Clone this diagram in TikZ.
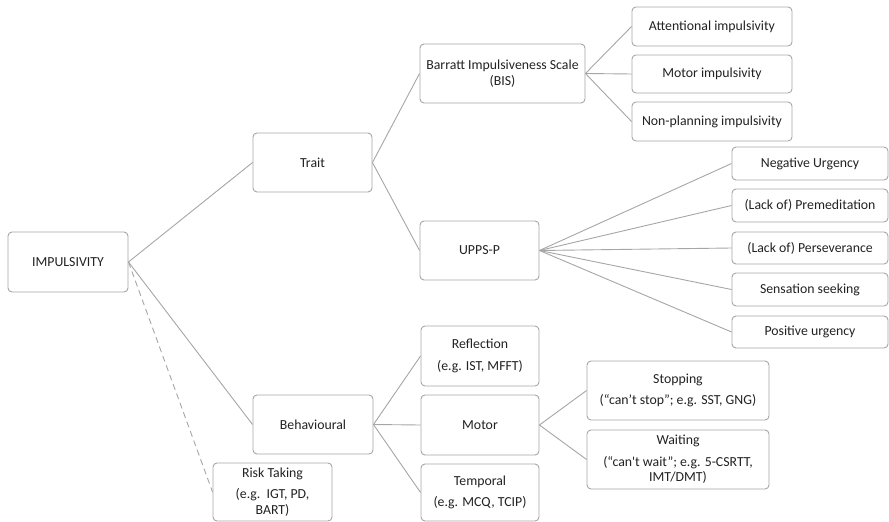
\documentclass[tikz,border=0pt]{standalone}
\usepackage{fontspec}
\setmainfont{Carlito}
\definecolor{boxline}{HTML}{A6A6A6}
\definecolor{conn}{HTML}{A6A6A6}
\definecolor{txt}{HTML}{222222}
\begin{document}
\begin{tikzpicture}[x=1pt,y=-1pt,
  bx/.style={draw=boxline, line width=0.9pt, rounded corners=4pt, fill=white,
    align=center, inner sep=0pt, text=txt,
    font=\fontsize{13.8}{15.5}\selectfont},
  cn/.style={draw=conn, line width=0.9pt}]
\useasboundingbox (0,0) rectangle (889,522);
% level 0
\node[bx, minimum width=120pt, minimum height=60pt] (imp) at (68,262) {IMPULSIVITY};
% level 1
\node[bx, minimum width=119pt, minimum height=59pt] (trait) at (312.5,162.5) {Trait};
\node[bx, minimum width=120pt, minimum height=59pt] (beh) at (313,424.5) {Behavioural};
\node[bx, minimum width=119pt, minimum height=58pt] (risk) at (272.5,492) {Risk Taking\\[6pt](e.g.\ \ IGT, PD,\\BART)};
% level 2
\node[bx, minimum width=165pt, minimum height=59pt] (bis) at (502.5,73.5) {Barratt Impulsiveness Scale\\(BIS)};
\node[bx, minimum width=119pt, minimum height=59pt] (upps) at (479.5,250.5) {UPPS-P};
\node[bx, minimum width=118pt, minimum height=60pt] (refl) at (480,356) {Reflection\\[6pt](e.g. IST, MFFT)};
\node[bx, minimum width=118pt, minimum height=60pt] (motor) at (480,425) {Motor};
\node[bx, minimum width=118pt, minimum height=57pt] (temp) at (480,492.5) {Temporal\\[6pt](e.g. MCQ, TCIP)};
% BIS children
\node[bx, minimum width=160pt, minimum height=39pt] (att) at (712,26.5) {Attentional impulsivity};
\node[bx, minimum width=160pt, minimum height=38pt] (motimp) at (712,74) {Motor impulsivity};
\node[bx, minimum width=160pt, minimum height=39pt] (nonpl) at (712,121.5) {Non-planning impulsivity};
% UPPS-P children
\node[bx, minimum width=156pt, minimum height=33pt] (neg) at (810,163.5) {Negative Urgency};
\node[bx, minimum width=156pt, minimum height=33pt] (prem) at (810,205.5) {(Lack of) Premeditation};
\node[bx, minimum width=156pt, minimum height=32pt] (pers) at (810,248) {(Lack of) Perseverance};
\node[bx, minimum width=156pt, minimum height=33pt] (sens) at (810,289.5) {Sensation seeking};
\node[bx, minimum width=156pt, minimum height=32pt] (pos) at (810,332) {Positive urgency};
% Motor children
\node[bx, minimum width=182pt, minimum height=59pt] (stop) at (678,390.5) {Stopping\\[6pt](“can’t stop”; e.g. SST, GNG)};
\node[bx, minimum width=182pt, minimum height=59pt] (wait) at (678,459.5) {Waiting\\[6pt](“can\textquotesingle t wait”; e.g. 5-CSRTT,\\IMT/DMT)};
% connectors
\draw[cn] (imp.east) -- (trait.west);
\draw[cn] (imp.east) -- (beh.west);
\draw[cn, dashed, dash pattern=on 6pt off 4pt] (imp.east) -- (risk.west);
\draw[cn] (trait.east) -- (bis.west);
\draw[cn] (trait.east) -- (upps.west);
\draw[cn] (beh.east) -- (refl.west);
\draw[cn] (beh.east) -- (motor.west);
\draw[cn] (beh.east) -- (temp.west);
\draw[cn] (bis.east) -- (att.west);
\draw[cn] (bis.east) -- (motimp.west);
\draw[cn] (bis.east) -- (nonpl.west);
\draw[cn] (upps.east) -- (neg.west);
\draw[cn] (upps.east) -- (prem.west);
\draw[cn] (upps.east) -- (pers.west);
\draw[cn] (upps.east) -- (sens.west);
\draw[cn] (upps.east) -- (pos.west);
\draw[cn] (motor.east) -- (stop.west);
\draw[cn] (motor.east) -- (wait.west);
\end{tikzpicture}
\end{document}
